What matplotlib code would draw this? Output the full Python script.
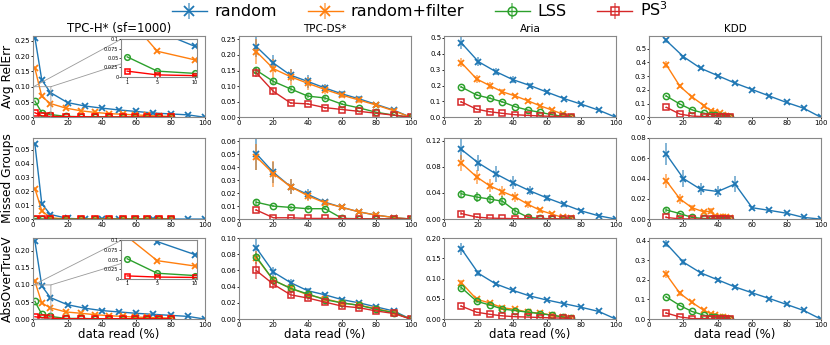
import matplotlib.pyplot as plt
from matplotlib.ticker import MultipleLocator

# x-Werte (Anteil gelesener Daten in %)
tpch_x_random = [1, 5, 10, 20, 30, 40, 50, 60, 70, 80, 90, 100]
tpch_x_other = [1, 5, 10, 19, 28, 36, 44, 52, 59, 66, 73, 80]
tpcds_x = [10, 20, 30, 40, 50, 60, 70, 80, 90, 100]
aria_x_random = [10, 20, 30, 40, 50, 60, 70, 80, 90, 100]
aria_x_other = [10, 19, 26.5, 34, 41.5, 49, 56, 63, 69, 74]
kdd_x_random = [10, 20, 30, 40, 50, 60, 70, 80, 90, 100]
kdd_x_other = [10, 18, 25, 32, 36, 38.5, 41, 43, 45, 47]

# TPC-H
tpch_relerr_random = [0.26, 0.122, 0.081, 0.048, 0.037, 0.030, 0.024, 0.019, 0.014, 0.011, 0.008, 0.0]
tpch_relerr_filter = [0.16, 0.068, 0.045, 0.030, 0.021, 0.016, 0.012, 0.010, 0.008, 0.006, 0.004, 0.003]
tpch_relerr_lss = [0.053, 0.015, 0.009, 0.003, 0.002, 0.002, 0.001, 0.001, 0.001, 0.001, 0.001, 0.001]
tpch_relerr_ps3 = [0.015, 0.005, 0.003, 0.002, 0.002, 0.001, 0.001, 0.001, 0.001, 0.001, 0.001, 0.001]
tpch_missed_random = [0.054, 0.011, 0.0033, 0.0005, 0, 0, 0, 0, 0, 0, 0, 0]
tpch_missed_filter = [0.022, 0.006, 0.001, 0, 0, 0, 0, 0, 0, 0, 0, 0]
tpch_missed_lss = [0.0003, 0.0001, 0, 0, 0, 0, 0, 0, 0, 0, 0, 0]
tpch_missed_ps3 = [0, 0, 0, 0, 0, 0, 0, 0, 0, 0, 0, 0]
tpch_abs_random = [0.228, 0.097, 0.063, 0.042, 0.032, 0.025, 0.021, 0.017, 0.014, 0.011, 0.008, 0.0]
tpch_abs_filter = [0.11, 0.047, 0.033, 0.021, 0.017, 0.013, 0.010, 0.008, 0.006, 0.005, 0.004, 0.003]
tpch_abs_lss = [0.052, 0.014, 0.008, 0.002, 0.002, 0.001, 0.001, 0.001, 0.001, 0.001, 0.001, 0.001]
tpch_abs_ps3 = [0.007, 0.004, 0.003, 0.001, 0.001, 0.001, 0.001, 0.001, 0.001, 0.001, 0.001, 0.001]

# TPC-DS
tpcds_relerr_random = [0.227, 0.174, 0.135, 0.115, 0.094, 0.075, 0.059, 0.041, 0.023, 0.0]
tpcds_relerr_filter = [0.211, 0.156, 0.130, 0.109, 0.089, 0.071, 0.055, 0.039, 0.021, 0.0]
tpcds_relerr_lss = [0.151, 0.115, 0.091, 0.068, 0.062, 0.042, 0.030, 0.016, 0.007, 0.0]
tpcds_relerr_ps3 = [0.143, 0.083, 0.046, 0.043, 0.031, 0.025, 0.019, 0.013, 0.007, 0.0]
tpcds_relerr_random_err = [0.035, 0.025, 0.02, 0.02, 0.012, 0.01, 0.008, 0.006, 0.005, 0]
tpcds_relerr_filter_err = [0.04, 0.03, 0.025, 0.02, 0.015, 0.01, 0.008, 0.006, 0.005, 0]
tpcds_relerr_lss_err = [0.01, 0.008, 0.007, 0.006, 0.005, 0.004, 0.003, 0.002, 0.002, 0]
tpcds_relerr_ps3_err = [0.015, 0.01, 0.004, 0.004, 0.003, 0.002, 0.002, 0.002, 0.001, 0]
tpcds_missed_random = [0.0505, 0.036, 0.025, 0.019, 0.013, 0.009, 0.0055, 0.003, 0.0012, 0.0]
tpcds_missed_filter = [0.048, 0.035, 0.025, 0.018, 0.0125, 0.009, 0.0055, 0.003, 0.0012, 0.0]
tpcds_missed_lss = [0.013, 0.010, 0.009, 0.008, 0.008, 0.0005, 0.0003, 0.0002, 0.0001, 0.0]
tpcds_missed_ps3 = [0.007, 0.001, 0.001, 0.0005, 0.0005, 0.0003, 0.0002, 0.0001, 0.0001, 0.0]
tpcds_missed_random_err = [0.013, 0.008, 0.006, 0.004, 0.002, 0.001, 0.001, 0.0008, 0.0005, 0]
tpcds_missed_filter_err = [0.01, 0.01, 0.006, 0.004, 0.002, 0.001, 0.001, 0.0008, 0.0005, 0]
tpcds_missed_lss_err = [0.002, 0.001, 0.001, 0.001, 0.001, 0.0005, 0, 0, 0, 0]
tpcds_missed_ps3_err = [0.001, 0.0005, 0.0003, 0, 0, 0, 0, 0, 0, 0]
tpcds_abs_random = [0.088, 0.058, 0.045, 0.035, 0.030, 0.024, 0.020, 0.015, 0.010, 0.0]
tpcds_abs_filter = [0.076, 0.048, 0.038, 0.030, 0.025, 0.020, 0.017, 0.013, 0.008, 0.0]
tpcds_abs_lss = [0.077, 0.048, 0.038, 0.031, 0.024, 0.020, 0.017, 0.012, 0.008, 0.0]
tpcds_abs_ps3 = [0.060, 0.043, 0.030, 0.026, 0.021, 0.016, 0.014, 0.010, 0.007, 0.0]
tpcds_abs_random_err = [0.012, 0.006, 0.004, 0.003, 0.002, 0.002, 0.001, 0.001, 0.001, 0]
tpcds_abs_filter_err = [0.008, 0.005, 0.004, 0.003, 0.002, 0.002, 0.001, 0.001, 0.001, 0]
tpcds_abs_lss_err = [0.005, 0.003, 0.002, 0.002, 0.001, 0.001, 0.001, 0.001, 0.001, 0]
tpcds_abs_ps3_err = [0.01, 0.006, 0.003, 0.003, 0.002, 0.002, 0.001, 0.001, 0.001, 0]

# Aria
aria_relerr_random = [0.469, 0.35, 0.288, 0.237, 0.20, 0.158, 0.117, 0.082, 0.045, 0.0]
aria_relerr_filter = [0.344, 0.241, 0.20, 0.16, 0.134, 0.103, 0.072, 0.045, 0.02, 0.004]
aria_relerr_lss = [0.191, 0.14, 0.12, 0.097, 0.066, 0.045, 0.031, 0.016, 0.006, 0.002]
aria_relerr_ps3 = [0.097, 0.051, 0.035, 0.025, 0.016, 0.012, 0.008, 0.006, 0.004, 0.002]
aria_relerr_random_err = [0.04, 0.03, 0.02, 0.02, 0.015, 0.012, 0.01, 0.008, 0.005, 0]
aria_relerr_filter_err = [0.03, 0.025, 0.02, 0.015, 0.012, 0.01, 0.008, 0.006, 0.004, 0.002]
aria_relerr_lss_err = [0.008, 0.006, 0.005, 0.005, 0.004, 0.003, 0.003, 0.002, 0.001, 0.001]
aria_relerr_ps3_err = [0.006, 0.003, 0.002, 0.002, 0.001, 0.001, 0.001, 0.001, 0.001, 0.001]
aria_missed_random = [0.1066, 0.0858, 0.0694, 0.0555, 0.0431, 0.0322, 0.0223, 0.0124, 0.005, 0.0]
aria_missed_filter = [0.0858, 0.0644, 0.051, 0.042, 0.0337, 0.0223, 0.0134, 0.0074, 0.0025, 0.001]
aria_missed_lss = [0.0387, 0.0337, 0.0307, 0.0273, 0.0124, 0.0025, 0.001, 0.0005, 0.0003, 0.0002]
aria_missed_ps3 = [0.0084, 0.003, 0.0015, 0.001, 0.0007, 0.0005, 0.0004, 0.0003, 0.0002, 0.0001]
aria_missed_random_err = [0.016, 0.012, 0.012, 0.01, 0.007, 0.005, 0.004, 0.003, 0.002, 0]
aria_missed_filter_err = [0.012, 0.01, 0.01, 0.008, 0.008, 0.005, 0.004, 0.003, 0.002, 0.001]
aria_missed_lss_err = [0.006, 0.008, 0.007, 0.008, 0.004, 0.002, 0.001, 0.0005, 0, 0]
aria_missed_ps3_err = [0.002, 0.001, 0.0005, 0.0005, 0, 0, 0, 0, 0, 0]
aria_abs_random = [0.174, 0.113, 0.087, 0.071, 0.057, 0.047, 0.038, 0.029, 0.019, 0.0]
aria_abs_filter = [0.090, 0.049, 0.040, 0.028, 0.024, 0.017, 0.015, 0.0095, 0.006, 0.003]
aria_abs_lss = [0.078, 0.044, 0.035, 0.025, 0.021, 0.017, 0.0135, 0.0095, 0.0055, 0.002]
aria_abs_ps3 = [0.032, 0.017, 0.012, 0.008, 0.006, 0.005, 0.004, 0.003, 0.0025, 0.0015]
aria_abs_random_err = [0.015, 0.007, 0.005, 0.004, 0.003, 0.003, 0.002, 0.002, 0.002, 0]
aria_abs_filter_err = [0.006, 0.004, 0.003, 0.003, 0.002, 0.002, 0.002, 0.001, 0.001, 0.001]
aria_abs_lss_err = [0.005, 0.003, 0.002, 0.002, 0.002, 0.001, 0.001, 0.001, 0.001, 0.001]
aria_abs_ps3_err = [0.002, 0.001, 0.001, 0.001, 0.001, 0, 0, 0, 0, 0]

# KDD
kdd_relerr_random = [0.559, 0.441, 0.357, 0.303, 0.249, 0.202, 0.155, 0.108, 0.066, 0.0]
kdd_relerr_filter = [0.383, 0.225, 0.148, 0.085, 0.047, 0.038, 0.028, 0.019, 0.012, 0.005]
kdd_relerr_lss = [0.155, 0.096, 0.054, 0.03, 0.019, 0.014, 0.009, 0.007, 0.005, 0.002]
kdd_relerr_ps3 = [0.073, 0.023, 0.009, 0.005, 0.003, 0.003, 0.002, 0.002, 0.001, 0.001]
kdd_relerr_random_err = [0.02, 0.015, 0.01, 0.01, 0.008, 0.006, 0.005, 0.005, 0.004, 0]
kdd_relerr_filter_err = [0.025, 0.015, 0.01, 0.01, 0.008, 0.006, 0.005, 0.004, 0.003, 0.002]
kdd_relerr_lss_err = [0.005, 0.004, 0.003, 0.002, 0.002, 0.001, 0.001, 0.001, 0.001, 0.001]
kdd_relerr_ps3_err = [0.004, 0.002, 0.001, 0.001, 0, 0, 0, 0, 0, 0]
kdd_missed_random = [0.064, 0.040, 0.0294, 0.0272, 0.0346, 0.0112, 0.0086, 0.0058, 0.0016, 0.0]
kdd_missed_filter = [0.0378, 0.0198, 0.0112, 0.007, 0.008, 0.0026, 0.0022, 0.002, 0.0018, 0.0015]
kdd_missed_lss = [0.009, 0.0054, 0.0016, 0.0006, 0.0004, 0.0003, 0.0002, 0.0002, 0.0001, 0.0001]
kdd_missed_ps3 = [0.0016, 0.0002, 0.0001, 0, 0, 0, 0, 0, 0, 0]
kdd_missed_random_err = [0.011, 0.008, 0.006, 0.005, 0.008, 0.002, 0.0015, 0.0012, 0.001, 0]
kdd_missed_filter_err = [0.007, 0.005, 0.003, 0.002, 0.003, 0.001, 0.001, 0.001, 0.001, 0.001]
kdd_missed_lss_err = [0.002, 0.001, 0.001, 0.0005, 0, 0, 0, 0, 0, 0]
kdd_missed_ps3_err = [0.001, 0.0005, 0, 0, 0, 0, 0, 0, 0, 0]
kdd_abs_random = [0.385, 0.29, 0.236, 0.20, 0.164, 0.134, 0.105, 0.075, 0.044, 0.0]
kdd_abs_filter = [0.228, 0.131, 0.085, 0.044, 0.028, 0.02, 0.013, 0.01, 0.007, 0.003]
kdd_abs_lss = [0.113, 0.069, 0.039, 0.02, 0.013, 0.01, 0.007, 0.005, 0.003, 0.002]
kdd_abs_ps3 = [0.031, 0.011, 0.003, 0.002, 0.001, 0.001, 0.001, 0.001, 0.001, 0.001]
kdd_abs_random_err = [0.02, 0.015, 0.01, 0.01, 0.008, 0.006, 0.005, 0.004, 0.003, 0]
kdd_abs_filter_err = [0.02, 0.012, 0.008, 0.005, 0.003, 0.002, 0.002, 0.001, 0.001, 0.001]
kdd_abs_lss_err = [0.005, 0.003, 0.002, 0.002, 0.001, 0.001, 0.001, 0.001, 0.001, 0.001]
kdd_abs_ps3_err = [0.003, 0.002, 0.001, 0, 0, 0, 0, 0, 0, 0]

methods = ['random', 'random+filter', 'LSS', 'PS$^3$']
titles = ['TPC-H* (sf=1000)', 'TPC-DS*', 'Aria', 'KDD']
row_labels = ['Avg RelErr', 'Missed Groups', 'AbsOverTrueV']

BLUE, ORANGE, GREEN, RED = '#1f77b4', '#ff7f0e', '#2ca02c', '#d62728'


def draw(ax, xr, xo, ys, errs=None, red=RED):
    colors = [BLUE, ORANGE, GREEN, red]
    styles = [dict(marker='x', ms=5, mew=1.3),
              dict(marker='x', ms=5, mew=1.3),
              dict(marker='o', ms=4.5, mew=1.1, mfc='none'),
              dict(marker='s', ms=4, mew=1.1, mfc='none')]
    xs = [xr, xo, xo, xo]
    conts = []
    for i in range(4):
        e = errs[i] if errs is not None else [0] * len(ys[i])
        c = ax.errorbar(xs[i], ys[i], yerr=e, color=colors[i], lw=1,
                        elinewidth=1.4, capsize=0, label=methods[i], **styles[i])
        for b in c[2]:
            b.set_alpha(0.55)
        conts.append(c)
    return conts


def style_axes(ax, ylim, ystep):
    ax.set_xlim(0, 100)
    ax.set_ylim(*ylim)
    ax.xaxis.set_major_locator(MultipleLocator(20))
    ax.yaxis.set_major_locator(MultipleLocator(ystep))
    ax.tick_params(labelsize=5, length=1.5, width=0.6, pad=0.6)
    for s in ax.spines.values():
        s.set_color('#888888')


def add_inset(ax, xr, xo, ys, bounds):
    axins = ax.inset_axes(bounds)
    draw(axins, xr, xo, ys, red='red')
    for line in axins.get_lines():
        line.set_markersize(line.get_markersize() * 0.9)
    axins.set_xlim(0.2, 10.3)
    axins.set_ylim(0, 0.1)
    axins.set_xticks([1, 5, 10])
    axins.set_yticks([0, 0.025, 0.05, 0.075, 0.1])
    axins.set_yticklabels(['0', '0.025', '0.05', '0.075', '0.1'])
    axins.tick_params(labelsize=3.6, length=1.2, width=0.5, pad=0.8)
    for s in axins.spines.values():
        s.set_color('#888888')
    ax.indicate_inset_zoom(axins, edgecolor='#999999', linewidth=0.6, alpha=1)


fig = plt.figure(figsize=(8.3, 3.45), dpi=100)

col_left = [0.040, 0.288, 0.535, 0.782]
row_bottom = [0.660, 0.365, 0.075]
w, h = 0.207, 0.235
axes = [[fig.add_axes([col_left[c], row_bottom[r], w, h]) for c in range(4)] for r in range(3)]

# TPC-H
ys = [tpch_relerr_random, tpch_relerr_filter, tpch_relerr_lss, tpch_relerr_ps3]
draw(axes[0][0], tpch_x_random, tpch_x_other, ys, red='red')
add_inset(axes[0][0], tpch_x_random, tpch_x_other, ys, [0.512, 0.5, 0.442, 0.463])
draw(axes[1][0], tpch_x_random, tpch_x_other,
     [tpch_missed_random, tpch_missed_filter, tpch_missed_lss, tpch_missed_ps3], red='red')
ys = [tpch_abs_random, tpch_abs_filter, tpch_abs_lss, tpch_abs_ps3]
draw(axes[2][0], tpch_x_random, tpch_x_other, ys, red='red')
add_inset(axes[2][0], tpch_x_random, tpch_x_other, ys, [0.512, 0.5, 0.442, 0.47])

# TPC-DS
handles = draw(axes[0][1], tpcds_x, tpcds_x,
               [tpcds_relerr_random, tpcds_relerr_filter, tpcds_relerr_lss, tpcds_relerr_ps3],
               [tpcds_relerr_random_err, tpcds_relerr_filter_err, tpcds_relerr_lss_err, tpcds_relerr_ps3_err])
draw(axes[1][1], tpcds_x, tpcds_x,
     [tpcds_missed_random, tpcds_missed_filter, tpcds_missed_lss, tpcds_missed_ps3],
     [tpcds_missed_random_err, tpcds_missed_filter_err, tpcds_missed_lss_err, tpcds_missed_ps3_err])
draw(axes[2][1], tpcds_x, tpcds_x,
     [tpcds_abs_random, tpcds_abs_filter, tpcds_abs_lss, tpcds_abs_ps3],
     [tpcds_abs_random_err, tpcds_abs_filter_err, tpcds_abs_lss_err, tpcds_abs_ps3_err])

# Aria
draw(axes[0][2], aria_x_random, aria_x_other,
     [aria_relerr_random, aria_relerr_filter, aria_relerr_lss, aria_relerr_ps3],
     [aria_relerr_random_err, aria_relerr_filter_err, aria_relerr_lss_err, aria_relerr_ps3_err])
draw(axes[1][2], aria_x_random, aria_x_other,
     [aria_missed_random, aria_missed_filter, aria_missed_lss, aria_missed_ps3],
     [aria_missed_random_err, aria_missed_filter_err, aria_missed_lss_err, aria_missed_ps3_err])
draw(axes[2][2], aria_x_random, aria_x_other,
     [aria_abs_random, aria_abs_filter, aria_abs_lss, aria_abs_ps3],
     [aria_abs_random_err, aria_abs_filter_err, aria_abs_lss_err, aria_abs_ps3_err])

# KDD
draw(axes[0][3], kdd_x_random, kdd_x_other,
     [kdd_relerr_random, kdd_relerr_filter, kdd_relerr_lss, kdd_relerr_ps3],
     [kdd_relerr_random_err, kdd_relerr_filter_err, kdd_relerr_lss_err, kdd_relerr_ps3_err])
draw(axes[1][3], kdd_x_random, kdd_x_other,
     [kdd_missed_random, kdd_missed_filter, kdd_missed_lss, kdd_missed_ps3],
     [kdd_missed_random_err, kdd_missed_filter_err, kdd_missed_lss_err, kdd_missed_ps3_err])
draw(axes[2][3], kdd_x_random, kdd_x_other,
     [kdd_abs_random, kdd_abs_filter, kdd_abs_lss, kdd_abs_ps3],
     [kdd_abs_random_err, kdd_abs_filter_err, kdd_abs_lss_err, kdd_abs_ps3_err])

# Achsen formatieren
ylims = [[(0, 0.265), (0, 0.26), (0, 0.51), (0, 0.59)],
         [(0, 0.0585), (0, 0.0625), (0, 0.124), (0, 0.08)],
         [(0, 0.237), (0, 0.1), (0, 0.2), (0, 0.413)]]
ysteps = [[0.05, 0.05, 0.1, 0.1],
          [0.01, 0.01, 0.04, 0.02],
          [0.05, 0.02, 0.05, 0.1]]
for r in range(3):
    for c in range(4):
        style_axes(axes[r][c], ylims[r][c], ysteps[r][c])
    axes[r][0].set_ylabel(row_labels[r], fontsize=8.8, labelpad=0.5)
for c in range(4):
    axes[0][c].set_title(titles[c], fontsize=8.5 if c == 0 else 7.5, pad=3)
    axes[2][c].set_xlabel('data read (%)', fontsize=8.5, labelpad=0)

fig.legend(handles, methods, loc='upper center', bbox_to_anchor=(0.506, 1.04), ncol=4,
           frameon=False, fontsize=11.5, markerscale=1.4, handlelength=2.2,
           columnspacing=1.9, handletextpad=0.5)

fig.savefig('out.png', dpi=100)
plt.close(fig)
